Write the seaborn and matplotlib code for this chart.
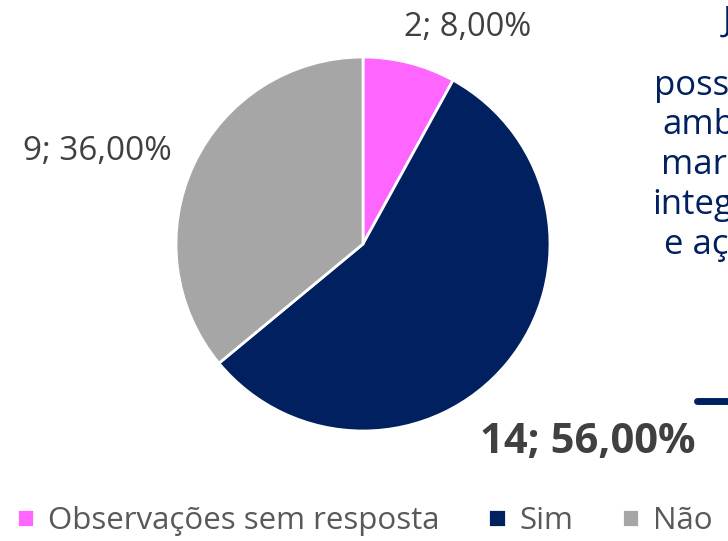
import matplotlib
matplotlib.use("Agg")
import matplotlib.pyplot as plt
import seaborn as sns

categorias = ["Observações sem resposta", "Sim", "Não"]
valores = [2, 14, 9]
cores = ["#FF66FF", "#002060", "#A6A6A6"]

sns.set_theme(style="white")
plt.rcParams['font.family'] = ['Open Sans', 'DejaVu Sans']

fig = plt.figure(figsize=(7.28, 5.41), dpi=100)
ax = fig.add_axes([176/728, 1 - 431/541, 374/728, 374/541])

wedges, _ = ax.pie(valores, colors=cores, startangle=90, counterclock=False,
                   wedgeprops=dict(edgecolor="white", linewidth=2), radius=1)
ax.set_xlim(-1, 1)
ax.set_ylim(-1, 1)
ax.set_aspect("equal")
ax.axis("off")

total = sum(valores)
rotulos = [f"{v}; {v/total*100:.2f}%".replace(".", ",") for v in valores]

# rótulos de dados
fig.text(468/728, 1 - 28/541, rotulos[0], ha="center", va="center",
         fontsize=23.5, color="#404040")
fig.text(588/728, 1 - 442/541, rotulos[1], ha="center", va="center",
         fontsize=30, color="#404040", fontweight="bold")
fig.text(97/728, 1 - 152/541, rotulos[2], ha="center", va="center",
         fontsize=24, color="#404040")

# texto cortado à direita (caixa de texto fora da área)
linhas = [("J", 723, 22), ("poss", 654, 86), ("amb", 662, 125), ("mar", 661, 165),
          ("integ", 652, 205), ("e aç", 664, 245)]
for t, x, y in linhas:
    fig.text(x/728, 1 - y/541, t, ha="left", va="center", fontsize=25, color="#002060")
fig.add_artist(plt.Line2D([697/728, 1.0], [1 - 401/541, 1 - 401/541],
                          color="#002060", linewidth=5, transform=fig.transFigure))

# legenda
leg = fig.legend(wedges, categorias, loc="center", bbox_to_anchor=(365/728, 1 - 521/541),
                 ncol=3, frameon=False, fontsize=22.5, handlelength=0.55, handleheight=0.55,
                 handletextpad=0.45, columnspacing=1.55, labelcolor="#595959")

fig.savefig("out.png", dpi=100)
